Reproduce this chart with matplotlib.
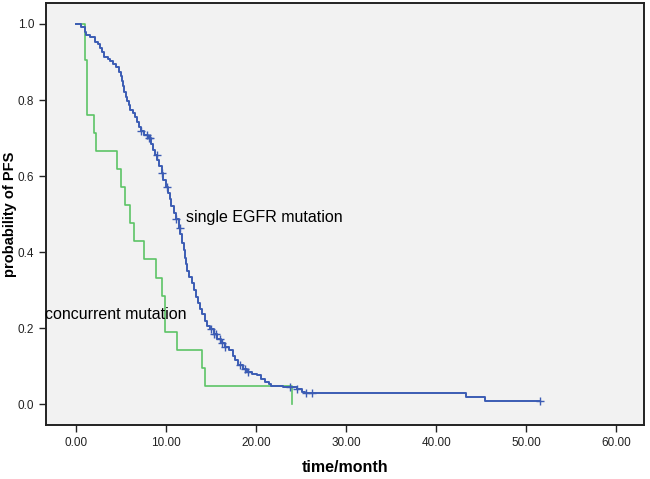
import matplotlib
matplotlib.use("Agg")
import matplotlib.pyplot as plt
import numpy as np

plt.rcParams['font.family'] = ['Liberation Sans', 'DejaVu Sans']

# concurrent mutation group (step times and survival after each step)
green_t = [0.0, 1.04, 1.26, 2.03, 2.2, 4.52, 5.0, 5.44, 5.97, 6.48, 7.59, 8.89, 9.55, 9.9, 11.2, 14.0, 14.3, 24.05]
green_s = [1.0, 0.905, 0.762, 0.714, 0.667, 0.619, 0.571, 0.524, 0.476, 0.429, 0.381, 0.333, 0.286, 0.190, 0.143, 0.095, 0.048, 0.0]

# single EGFR mutation group
blue_t = [0.0, 0.6, 1.0, 1.1, 1.6, 2.1, 2.4, 2.7, 2.9, 3.1, 3.5, 3.8, 4.1, 4.4, 4.8, 4.95,
          5.1, 5.2, 5.35, 5.5, 5.7, 5.85, 6.0, 6.3, 6.6, 6.8, 6.95, 7.2, 7.6, 8.0, 8.3, 8.6,
          8.8, 9.0, 9.2, 9.5, 9.7, 10.0, 10.2, 10.4, 10.6, 10.85, 11.1, 11.4, 11.6, 11.8,
          11.95, 12.1, 12.2, 12.35, 12.6, 12.9, 13.1, 13.3, 13.6, 13.8, 14.0, 14.3, 14.6,
          14.9, 15.3, 15.7, 16.1, 16.5, 17.0, 17.4, 17.7, 18.0, 18.5, 19.0, 19.6, 20.1,
          20.6, 21.0, 21.4, 21.7, 23.0, 24.5, 25.1, 25.4, 43.3, 45.4, 51.55]
blue_s = [1.000, 0.993, 0.980, 0.971, 0.966, 0.953, 0.946, 0.938, 0.925, 0.912, 0.908,
          0.903, 0.894, 0.886, 0.875, 0.862, 0.850, 0.836, 0.820, 0.808, 0.797, 0.786,
          0.774, 0.765, 0.755, 0.742, 0.730, 0.719, 0.708, 0.699, 0.685, 0.669, 0.655,
          0.642, 0.628, 0.607, 0.590, 0.572, 0.556, 0.540, 0.522, 0.503, 0.487, 0.465,
          0.448, 0.425, 0.405, 0.385, 0.368, 0.350, 0.335, 0.320, 0.300, 0.283, 0.266,
          0.252, 0.239, 0.220, 0.207, 0.198, 0.185, 0.172, 0.162, 0.152, 0.143, 0.128,
          0.116, 0.104, 0.094, 0.086, 0.081, 0.077, 0.068, 0.059, 0.053, 0.048, 0.045,
          0.040, 0.033, 0.029, 0.020, 0.0095, 0.0095]

# censored observations (times) on the single EGFR curve
blue_censor = [7.2, 7.9, 8.1, 8.25, 8.96, 9.52, 10.07, 11.1, 11.56, 15.0, 15.35, 15.6,
               16.0, 16.2, 16.5, 18.2, 18.8, 19.1, 23.8, 24.5, 25.6, 26.2, 51.55]

x_ticks = [0, 10, 20, 30, 40, 50, 60]
y_ticks = [0.0, 0.2, 0.4, 0.6, 0.8, 1.0]

blue = '#3c5cb4'
green = '#5cc466'

fig = plt.figure(figsize=(6.5, 4.79), dpi=100)
ax = fig.add_axes([0.0708, 0.1127, 0.92, 0.881])
ax.set_facecolor('#f2f2f2')

ax.plot(green_t, green_s, drawstyle='steps-post', color=green, lw=1.2)
ax.plot(blue_t, blue_s, drawstyle='steps-post', color=blue, lw=1.4)

# y of censor marks taken from the step curve
idx = np.searchsorted(blue_t, blue_censor, side='right') - 1
cens_y = np.array(blue_s)[idx]
ax.plot(blue_censor, cens_y, ls='none', marker='+', ms=6, mew=1.0, color=blue)

ax.text(12.2, 0.4925, 'single EGFR mutation', fontsize=11.5, va='center', ha='left')
ax.text(-3.45, 0.237, 'concurrent mutation', fontsize=11.5, va='center', ha='left',
        clip_on=False)

ax.set_xlim(-3.33, 63.1)
ax.set_ylim(-0.054, 1.055)
ax.set_xticks(x_ticks)
ax.set_xticklabels(['%.2f' % v for v in x_ticks])
ax.set_yticks(y_ticks)
ax.set_yticklabels(['%.1f' % v for v in y_ticks])
ax.tick_params(direction='out', length=5, width=1, labelsize=8.5, colors='#222222')

for sp in ax.spines.values():
    sp.set_linewidth(1.4)
    sp.set_color('#222222')

ax.set_xlabel('time/month', fontsize=11.5, fontweight='bold')
ax.set_ylabel('probability of PFS', fontsize=10.5, fontweight='bold', va='center')
ax.xaxis.set_label_coords(0.5, -0.083)
ax.yaxis.set_label_coords(-0.06, 0.5)

fig.savefig('out.png', dpi=100)
